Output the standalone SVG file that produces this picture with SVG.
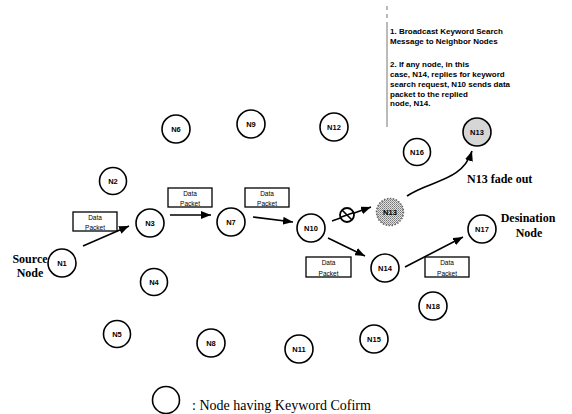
<svg xmlns="http://www.w3.org/2000/svg" width="572" height="414" viewBox="0 0 572 414">
<defs>
<marker id="ah" markerUnits="userSpaceOnUse" markerWidth="10" markerHeight="8" refX="10" refY="4" orient="auto">
<path d="M0,0 L10,4 L0,8 z" fill="#000"/>
</marker>
<pattern id="stip" width="2" height="2" patternUnits="userSpaceOnUse">
<rect width="2" height="2" fill="#e0e0e0"/>
<rect width="1" height="1" fill="#777"/>
<rect x="1" y="1" width="1" height="1" fill="#999"/>
</pattern>
<style>
.n{fill:#fff;stroke:#000;stroke-width:1.6}
.lb{font-family:"Liberation Sans",Arial,sans-serif;font-size:7.5px;font-weight:bold;text-anchor:middle;fill:#000}
.box{fill:#fff;stroke:#000;stroke-width:1.3}
.bt{font-family:"Liberation Sans",Arial,sans-serif;font-size:6.5px;text-anchor:middle;fill:#000}
.ln{stroke:#000;stroke-width:1.6;fill:none}
.big{font-family:"Liberation Serif","Times New Roman",serif;font-weight:bold;font-size:12px;fill:#000}
.note{font-family:"Liberation Sans",Arial,sans-serif;font-weight:bold;font-size:8px;fill:#000}
</style>
</defs>
<rect width="572" height="414" fill="#fff"/>

<g id="connectors">
<line class="ln" x1="83" y1="246" x2="129" y2="226" marker-end="url(#ah)"/>
<line class="ln" x1="170" y1="215" x2="211" y2="215" marker-end="url(#ah)"/>
<line class="ln" x1="253" y1="217" x2="293" y2="222" marker-end="url(#ah)"/>
<line class="ln" x1="332" y1="221" x2="371" y2="207" marker-end="url(#ah)"/>
<line class="ln" x1="328" y1="238" x2="365" y2="256" marker-end="url(#ah)"/>
<line class="ln" x1="405" y1="267" x2="463" y2="237" marker-end="url(#ah)"/>
<path class="ln" d="M407,196 C430,180 462,182 472,151" marker-end="url(#ah)"/>
</g>

<g id="block">
<circle cx="347" cy="215" r="7" fill="#fff" stroke="#000" stroke-width="1.8"/>
<line class="ln" x1="342" y1="210" x2="352" y2="220"/>
<line class="ln" x1="340" y1="217.5" x2="354" y2="212.5"/>
</g>

<g id="packets">
<g id="p1"><rect class="box" x="73" y="212" width="44" height="19"/><text class="bt" x="95" y="220">Data</text><text class="bt" x="95" y="230">Packet</text></g>
<g id="p2"><rect class="box" x="168" y="188" width="44" height="19"/><text class="bt" x="190" y="196">Data</text><text class="bt" x="190" y="206">Packet</text></g>
<g id="p3"><rect class="box" x="245" y="188" width="44" height="19"/><text class="bt" x="267" y="196">Data</text><text class="bt" x="267" y="206">Packet</text></g>
<g id="p4"><rect class="box" x="306" y="257" width="45" height="20"/><text class="bt" x="328.5" y="265">Data</text><text class="bt" x="328.5" y="276">Packet</text></g>
<g id="p5"><rect class="box" x="425" y="257" width="44" height="20"/><text class="bt" x="447" y="265">Data</text><text class="bt" x="447" y="276">Packet</text></g>
</g>

<g id="N1"><circle class="n" cx="62" cy="263" r="14"/><text class="lb" x="62" y="265.7">N1</text></g>
<g id="N2"><circle class="n" cx="113" cy="181" r="13.5"/><text class="lb" x="113" y="183.7">N2</text></g>
<g id="N3"><circle class="n" cx="150" cy="223" r="14"/><text class="lb" x="150" y="225.7">N3</text></g>
<g id="N4"><circle class="n" cx="154" cy="282" r="13.5"/><text class="lb" x="154" y="284.7">N4</text></g>
<g id="N5"><circle class="n" cx="117" cy="334" r="13.5"/><text class="lb" x="117" y="336.7">N5</text></g>
<g id="N6"><circle class="n" cx="176" cy="129" r="14"/><text class="lb" x="176" y="131.7">N6</text></g>
<g id="N7"><circle class="n" cx="231" cy="222" r="14"/><text class="lb" x="231" y="224.7">N7</text></g>
<g id="N8"><circle class="n" cx="211" cy="343" r="14"/><text class="lb" x="211" y="345.7">N8</text></g>
<g id="N9"><circle class="n" cx="251" cy="124" r="14"/><text class="lb" x="251" y="126.7">N9</text></g>
<g id="N10"><circle class="n" cx="311" cy="228" r="14"/><text class="lb" x="311" y="230.7">N10</text></g>
<g id="N11"><circle class="n" cx="299" cy="349" r="14"/><text class="lb" x="299" y="351.7">N11</text></g>
<g id="N12"><circle class="n" cx="334" cy="127" r="14"/><text class="lb" x="334" y="129.7">N12</text></g>
<g id="N13faded"><circle cx="390" cy="212" r="13.5" fill="url(#stip)" stroke="#666" stroke-width="1.5" stroke-dasharray="1.5 1.5"/><text class="lb" x="390" y="214.7" fill="#444">N13</text></g>
<g id="N13"><circle cx="477" cy="132" r="14" fill="#d6d6d6" stroke="#000" stroke-width="1.6"/><text class="lb" x="477" y="134.7">N13</text></g>
<g id="N14"><circle class="n" cx="385" cy="268" r="14"/><text class="lb" x="385" y="270.7">N14</text></g>
<g id="N15"><circle class="n" cx="374" cy="339" r="14"/><text class="lb" x="374" y="341.7">N15</text></g>
<g id="N16"><circle class="n" cx="417" cy="152" r="13.5"/><text class="lb" x="417" y="154.7">N16</text></g>
<g id="N17"><circle class="n" cx="482" cy="229" r="14"/><text class="lb" x="482" y="231.7">N17</text></g>
<g id="N18"><circle class="n" cx="433" cy="306" r="14"/><text class="lb" x="433" y="308.7">N18</text></g>

<g id="labels">
<text class="big" x="30" y="263" text-anchor="middle">Source</text>
<text class="big" x="30" y="277" text-anchor="middle">Node</text>
<text class="big" x="528" y="222" text-anchor="middle" font-size="11">Desination</text>
<text class="big" x="529" y="237" text-anchor="middle" font-size="11">Node</text>
<text class="big" x="467" y="183">N13 fade out</text>
</g>

<g id="note">
<line x1="387" y1="6" x2="387" y2="10" stroke="#777" stroke-width="1"/>
<line x1="387" y1="14" x2="387" y2="18" stroke="#777" stroke-width="1"/>
<line x1="387" y1="22" x2="387" y2="127" stroke="#777" stroke-width="1"/>
<text class="note" x="390" y="34">1. Broadcast  Keyword Search</text>
<text class="note" x="390" y="44">Message to Neighbor Nodes</text>
<text class="note" x="390" y="67">2. If any node, in this</text>
<text class="note" x="390" y="77">case, N14, replies for keyword</text>
<text class="note" x="390" y="87">search request, N10 sends data</text>
<text class="note" x="390" y="97">packet to the replied</text>
<text class="note" x="390" y="106">node, N14.</text>
</g>

<g id="legend">
<circle class="n" cx="166" cy="400" r="13.5"/>
<text x="192" y="410" font-family="'Liberation Serif','Times New Roman',serif" font-size="14px" fill="#000">: Node having Keyword Cofirm</text>
</g>
</svg>
